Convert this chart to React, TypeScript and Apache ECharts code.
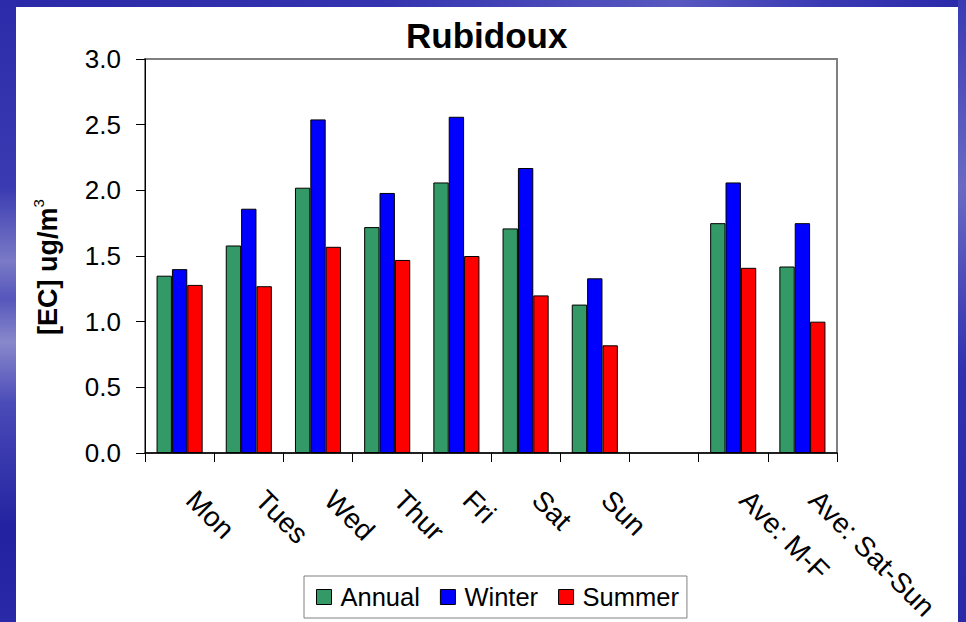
import React, { useEffect, useRef } from "react";
import * as echarts from "echarts";

const categories = ["Mon", "Tues", "Wed", "Thur", "Fri", "Sat", "Sun", "", "Ave: M-F", "Ave: Sat-Sun"];
const annual = [1.35, 1.58, 2.02, 1.72, 2.06, 1.71, 1.13, null, 1.75, 1.42];
const winter = [1.4, 1.86, 2.54, 1.98, 2.56, 2.17, 1.33, null, 2.06, 1.75];
const summer = [1.28, 1.27, 1.57, 1.47, 1.5, 1.2, 0.82, null, 1.41, 1.0];
const yTicks = { min: 0, max: 3, interval: 0.5 };
const titleText = "Rubidoux";

const FONT = "'Liberation Sans', Arial, Helvetica, sans-serif";

export default function App() {
  const ref = useRef<HTMLDivElement>(null);

  useEffect(() => {
    if (!ref.current) return;
    const chart = echarts.init(ref.current, undefined, { renderer: "svg" });
    const mk = (name: string, data: (number | null)[], color: string) => ({
      name,
      type: "bar",
      data,
      barGap: "0%",
      barCategoryGap: "33.4%",
      itemStyle: { color, borderColor: "#000", borderWidth: 1 },
    });
    chart.setOption({
      animation: false,
      textStyle: { fontFamily: FONT },
      title: {
        text: titleText,
        left: 406,
        top: 18,
        padding: 0,
        textStyle: { fontFamily: FONT, fontSize: 35, fontWeight: "bold", color: "#000" },
      },
      legend: {
        left: 304,
        top: 576,
        orient: "horizontal",
        padding: [8, 8, 8, 12],
        itemWidth: 15,
        itemHeight: 15,
        itemGap: 20,
        borderColor: "#808080",
        borderWidth: 1,
        backgroundColor: "#fff",
        icon: "rect",
        textStyle: { fontFamily: FONT, fontSize: 25.5, color: "#000", padding: [0, 0, 0, 4] },
        data: [
          { name: "Annual", itemStyle: { color: "#339966", borderColor: "#000", borderWidth: 1 } },
          { name: "Winter", itemStyle: { color: "#0000ff", borderColor: "#000", borderWidth: 1 } },
          { name: "Summer", itemStyle: { color: "#ff0000", borderColor: "#000", borderWidth: 1 } },
        ],
      },
      grid: {
        left: 145,
        right: 129,
        top: 59,
        bottom: 169,
        containLabel: false,
        outerBoundsMode: "none",
        show: true,
        backgroundColor: "#fff",
        borderColor: "#808080",
        borderWidth: 2,
      },
      xAxis: {
        type: "category",
        data: categories,
        axisLine: { show: true, lineStyle: { color: "#000", width: 1.5 } },
        axisTick: { show: true, interval: 0, length: 9, lineStyle: { color: "#000", width: 1 } },
        axisLabel: {
          interval: 0,
          rotate: -45,
          margin: 31,
          padding: [0, 0, 0, 16],
          fontFamily: FONT,
          fontSize: 28,
          color: "#000",
        },
        splitLine: { show: false },
      },
      yAxis: {
        type: "value",
        min: yTicks.min,
        max: yTicks.max,
        interval: yTicks.interval,
        name: "{a|[EC] ug/m}{b|3}",
        nameLocation: "middle",
        nameRotate: 90,
        nameGap: 84,
        nameTextStyle: {
          padding: [0, 22, 0, 0],
          rich: {
            a: { fontFamily: FONT, fontSize: 27, fontWeight: "bold", color: "#000", lineHeight: 30, verticalAlign: "bottom" },
            b: { fontFamily: FONT, fontSize: 15, color: "#000", lineHeight: 30, verticalAlign: "top" },
          },
        },
        axisLine: { show: true, lineStyle: { color: "#000", width: 1 } },
        axisTick: { show: true, length: 9, lineStyle: { color: "#000", width: 1 } },
        axisLabel: {
          margin: 24,
          fontFamily: FONT,
          fontSize: 26,
          color: "#000",
          formatter: (v: number) => v.toFixed(1),
        },
        splitLine: { show: false },
      },
      series: [
        mk("Annual", annual, "#339966"),
        mk("Winter", winter, "#0000ff"),
        mk("Summer", summer, "#ff0000"),
      ],
    });
    return () => chart.dispose();
  }, []);

  return (
    <div
      style={{
        position: "absolute",
        left: 0,
        top: 0,
        width: 966,
        height: 622,
        overflow: "hidden",
        background:
          "linear-gradient(90deg, #2a2aa8 0%, #3434b0 40%, #5858c0 70%, #3a3ab4 85%, #2a2aaa 100%)",
      }}
    >
      <div
        style={{
          position: "absolute",
          left: 0,
          top: 0,
          width: 16,
          height: 622,
          background:
            "linear-gradient(180deg, #2c2caa 0%, #3a3ab2 30%, #7a7ac6 42%, #5656bc 48%, #8888cc 55%, #4a4ab8 65%, #2222a0 85%, #2a2aa8 100%)",
        }}
      />
      <div
        style={{
          position: "absolute",
          left: 958,
          top: 0,
          width: 8,
          height: 622,
          background:
            "linear-gradient(180deg, #3a3ab4 0%, #6a6ac4 30%, #3030b0 60%, #2a2aa8 100%)",
        }}
      />
      <div style={{ position: "absolute", left: 16, top: 7, width: 942, height: 615, background: "#fff" }} />
      <div ref={ref} style={{ position: "absolute", left: 0, top: 0, width: 966, height: 622 }} />
    </div>
  );
}
